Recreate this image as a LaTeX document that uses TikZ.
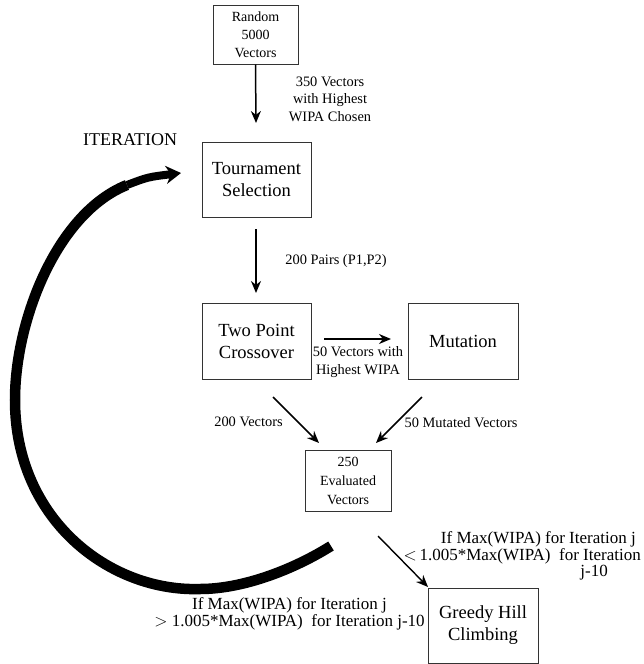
\documentclass[tikz,border=0pt]{standalone}
\usepackage{fontspec}
\setmainfont{Liberation Serif}
\usetikzlibrary{arrows.meta}
\begin{document}
\begin{tikzpicture}[x=1pt,y=-1pt,
  box/.style={draw=black!80,line width=1pt,align=center,inner sep=0pt},
  bigtext/.style={font=\fontsize{18.5}{22}\selectfont},
  smalltext/.style={font=\fontsize{14}{19}\selectfont},
  lab/.style={align=center,font=\fontsize{14.4}{17.5}\selectfont,inner sep=0pt},
  cond/.style={font=\fontsize{17}{14.5}\selectfont,inner sep=0pt},
  arr/.style={line width=1.5pt,-{Stealth[length=12pt,width=10pt]}}]
\useasboundingbox (0,0) rectangle (643,664);
\node[box,smalltext,minimum width=85pt,minimum height=59pt,font=\fontsize{14}{18}\selectfont] (rand) at (255.5,34.5) {Random\\5000\\Vectors};
\node[box,bigtext,minimum width=109pt,minimum height=75pt] (tour) at (256.5,179.5) {Tournament\\Selection};
\node[box,bigtext,minimum width=109pt,minimum height=76pt] (cross) at (256.5,341) {Two Point\\Crossover};
\node[box,bigtext,minimum width=110pt,minimum height=76pt] (mut) at (463,341) {Mutation};
\node[box,smalltext,minimum width=86pt,minimum height=61pt] (eval) at (348,480.5) {250\\Evaluated\\Vectors};
\node[box,bigtext,minimum width=110pt,minimum height=75pt] (greedy) at (483,625.5) {Greedy Hill\\Climbing};
\node[font=\fontsize{18}{21}\selectfont,inner sep=0pt] (iter) at (130,140) {ITERATION};

\coordinate (a1e) at (256,123);
\draw[arr] (rand.south) -- (a1e);
\node[lab] (l1) at (330,99) {350 Vectors\\with Highest\\WIPA Chosen};

\coordinate (a2s) at (256,229);
\coordinate (a2e) at (256,293);
\draw[arr] (a2s) -- (a2e);
\node[lab] (l2) at (336,261) {200 Pairs (P1,P2)};

\coordinate (a3s) at (324,339);
\coordinate (a3e) at (391,339);
\draw[arr] (a3s) -- (a3e);
\node[lab,font=\fontsize{14.4}{18}\selectfont] (l3) at (358,362) {50 Vectors with\\Highest WIPA};

\coordinate (a4s) at (273,397);
\coordinate (a4e) at (319,443);
\draw[arr] (a4s) -- (a4e);
\node[lab] (l4) at (248.5,422) {200 Vectors};

\coordinate (a5s) at (422,397);
\coordinate (a5e) at (376,443);
\draw[arr] (a5s) -- (a5e);
\node[lab] (l5) at (461,423) {50 Mutated Vectors};

\coordinate (a6s) at (378,536);
\coordinate (a6e) at (428,587);
\draw[line width=1.4pt,-{Stealth[length=12pt,width=10pt]}] (a6s) -- (a6e);
\node[cond,align=right,anchor=east] (l6) at (641,556) {If Max(WIPA) for Iteration j\hspace*{5pt}\\$<$\,1.005*Max(WIPA)\ \ for Iteration\\j-10\hspace*{33pt}};

\node[cond,align=center] (l7) at (289.5,614) {If Max(WIPA) for Iteration j\\$>$ 1.005*Max(WIPA)\ \ for Iteration j-10};

\coordinate (cs) at (331,546);
\coordinate (cb) at (200,589);
\coordinate (cl) at (15,400);
\coordinate (cmid) at (127,185);
\coordinate (ce) at (181,173);
\draw[line width=10.5pt] (cs) .. controls (296,568) and (245,589) .. (cb)
  .. controls (110,592) and (15,520) .. (cl)
  .. controls (15,320) and (57,213) .. (cmid);
\draw[line width=8pt,-{Stealth[length=15pt,width=18pt]}] (cmid) .. controls (148,177) .. (ce);
\end{tikzpicture}
\end{document}
